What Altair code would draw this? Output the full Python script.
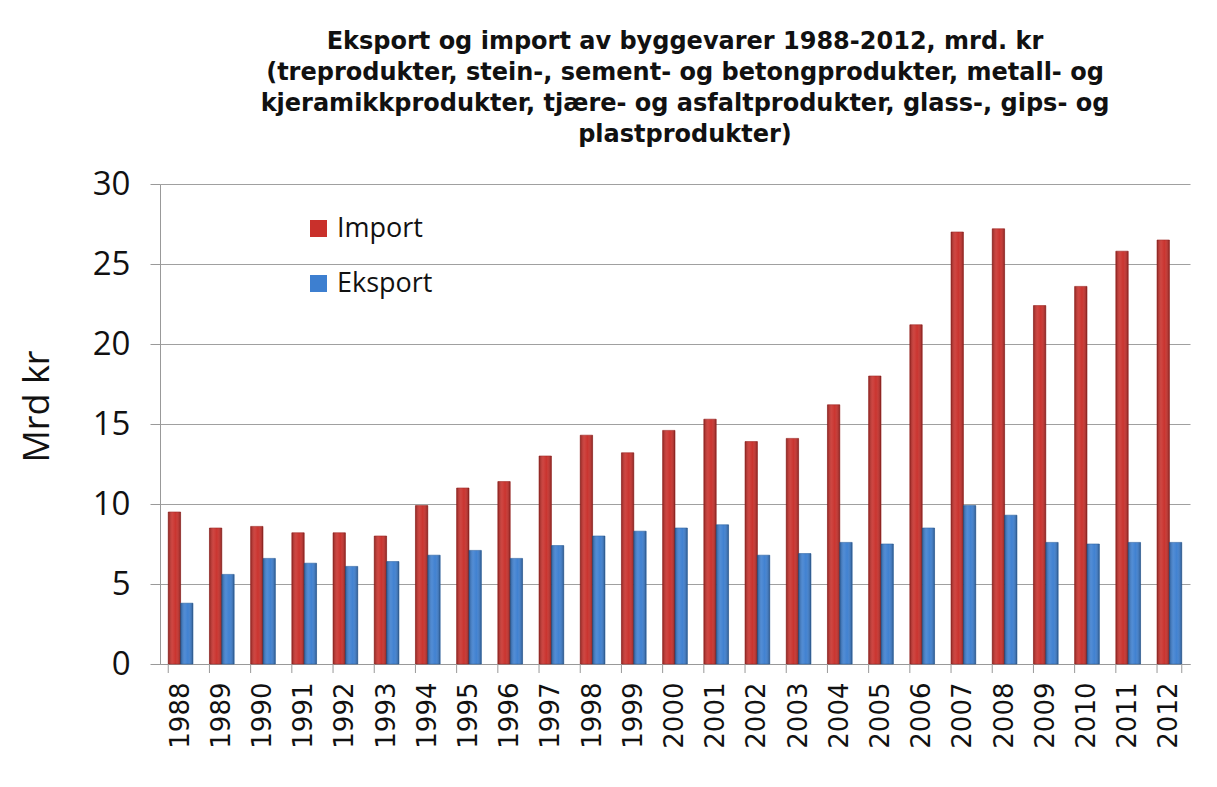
import altair as alt
import pandas as pd

years = [str(y) for y in range(1988, 2013)]
import_vals = [9.5, 8.5, 8.6, 8.2, 8.2, 8.0, 9.9, 11.0, 11.4, 13.0, 14.3, 13.2, 14.6,
               15.3, 13.9, 14.1, 16.2, 18.0, 21.2, 27.0, 27.2, 22.4, 23.6, 25.8, 26.5]
eksport_vals = [3.8, 5.6, 6.6, 6.3, 6.1, 6.4, 6.8, 7.1, 6.6, 7.4, 8.0, 8.3, 8.5,
                8.7, 6.8, 6.9, 7.6, 7.5, 8.5, 9.9, 9.3, 7.6, 7.5, 7.6, 7.6]
series = ["Import", "Eksport"]
colors = ["#c9302b", "#3d7fd0"]

title_lines = [
    "Eksport og import av byggevarer 1988-2012, mrd. kr",
    "(treprodukter, stein-, sement- og betongprodukter, metall- og",
    "kjeramikkprodukter, tjære- og asfaltprodukter, glass-, gips- og",
    "plastprodukter)",
]

rows = []
for y, i, e in zip(years, import_vals, eksport_vals):
    rows.append({"year": y, "series": "Import", "value": i})
    rows.append({"year": y, "series": "Eksport", "value": e})
df = pd.DataFrame(rows)
ticks_df = pd.DataFrame({"year": years})

xscale = alt.Scale(domain=years, paddingInner=0.4, paddingOuter=0.2)
x_enc = alt.X("year:N", scale=xscale, sort=years,
              axis=alt.Axis(title=None, labelAngle=270, labelFontSize=26,
                            labelFont="DejaVu Sans", labelColor="#111",
                            ticks=False, labelPadding=18, domainColor="#999"))
xoff_enc = alt.XOffset("series:N", sort=series,
                       scale=alt.Scale(domain=series, paddingInner=0, paddingOuter=0))
y_enc = alt.Y("value:Q", scale=alt.Scale(domain=[0, 30]),
              axis=alt.Axis(title="Mrd kr", values=[0, 5, 10, 15, 20, 25, 30],
                            labelFontSize=33, labelFont="Open Sans", labelColor="#111",
                            titleFontSize=36, titleFont="Open Sans", titleFontWeight="normal",
                            titleColor="#111", titlePadding=36, titleY=222,
                            tickSize=10, tickColor="#999", labelPadding=20,
                            gridColor="#a0a0a0", domainColor="#999"))

bars = alt.Chart(df).mark_bar(strokeWidth=0.6).encode(
    x=x_enc,
    xOffset=xoff_enc,
    y=y_enc,
    color=alt.Color("series:N", sort=series,
                    scale=alt.Scale(domain=series, range=colors),
                    legend=alt.Legend(title=None, orient="none", legendX=145, legendY=31,
                                      labelFontSize=27, labelFont="Open Sans",
                                      labelColor="#111", symbolType="square",
                                      symbolSize=290, rowPadding=27,
                                      symbolStrokeWidth=0, labelOffset=5)),
    stroke=alt.Stroke("series:N", sort=series,
                      scale=alt.Scale(domain=series, range=["#9a1f1b", "#28609f"]),
                      legend=None),
)

shade = alt.Chart(df).mark_bar(
    color=alt.LinearGradient(
        gradient="linear", x1=0, x2=1, y1=0, y2=0,
        stops=[
            alt.GradientStop(color="rgba(0,0,0,0.28)", offset=0),
            alt.GradientStop(color="rgba(255,255,255,0.10)", offset=0.35),
            alt.GradientStop(color="rgba(255,255,255,0.02)", offset=0.6),
            alt.GradientStop(color="rgba(0,0,0,0.30)", offset=1),
        ],
    )
).encode(x=alt.X("year:N", scale=xscale, sort=years), xOffset=xoff_enc,
         y=alt.Y("value:Q"))

ticks = alt.Chart(ticks_df).mark_rule(color="#999", strokeWidth=1).encode(
    x=alt.X("year:N", scale=xscale, sort=years, bandPosition=0),
    y=alt.value(480),
    y2=alt.value(489),
)
end_tick = alt.Chart(ticks_df.tail(1)).mark_rule(color="#999", strokeWidth=1).encode(
    x=alt.X("year:N", scale=xscale, sort=years, bandPosition=1),
    y=alt.value(480),
    y2=alt.value(489),
)

chart = alt.layer(bars, shade, ticks, end_tick).properties(
    width=1030,
    height=480,
    autosize=alt.AutoSizeParams(type="none"),
    padding={"left": 152, "top": 176, "right": 19, "bottom": 115},
    title=alt.TitleParams(text=title_lines, font="DejaVu Sans", fontSize=24,
                          fontWeight="bold", color="#111", lineHeight=31,
                          anchor="middle", offset=21, dx=10),
).configure_view(stroke=None).configure_axisX(grid=False)

chart.save("out.html", embed_options={"renderer": "svg", "actions": False})
